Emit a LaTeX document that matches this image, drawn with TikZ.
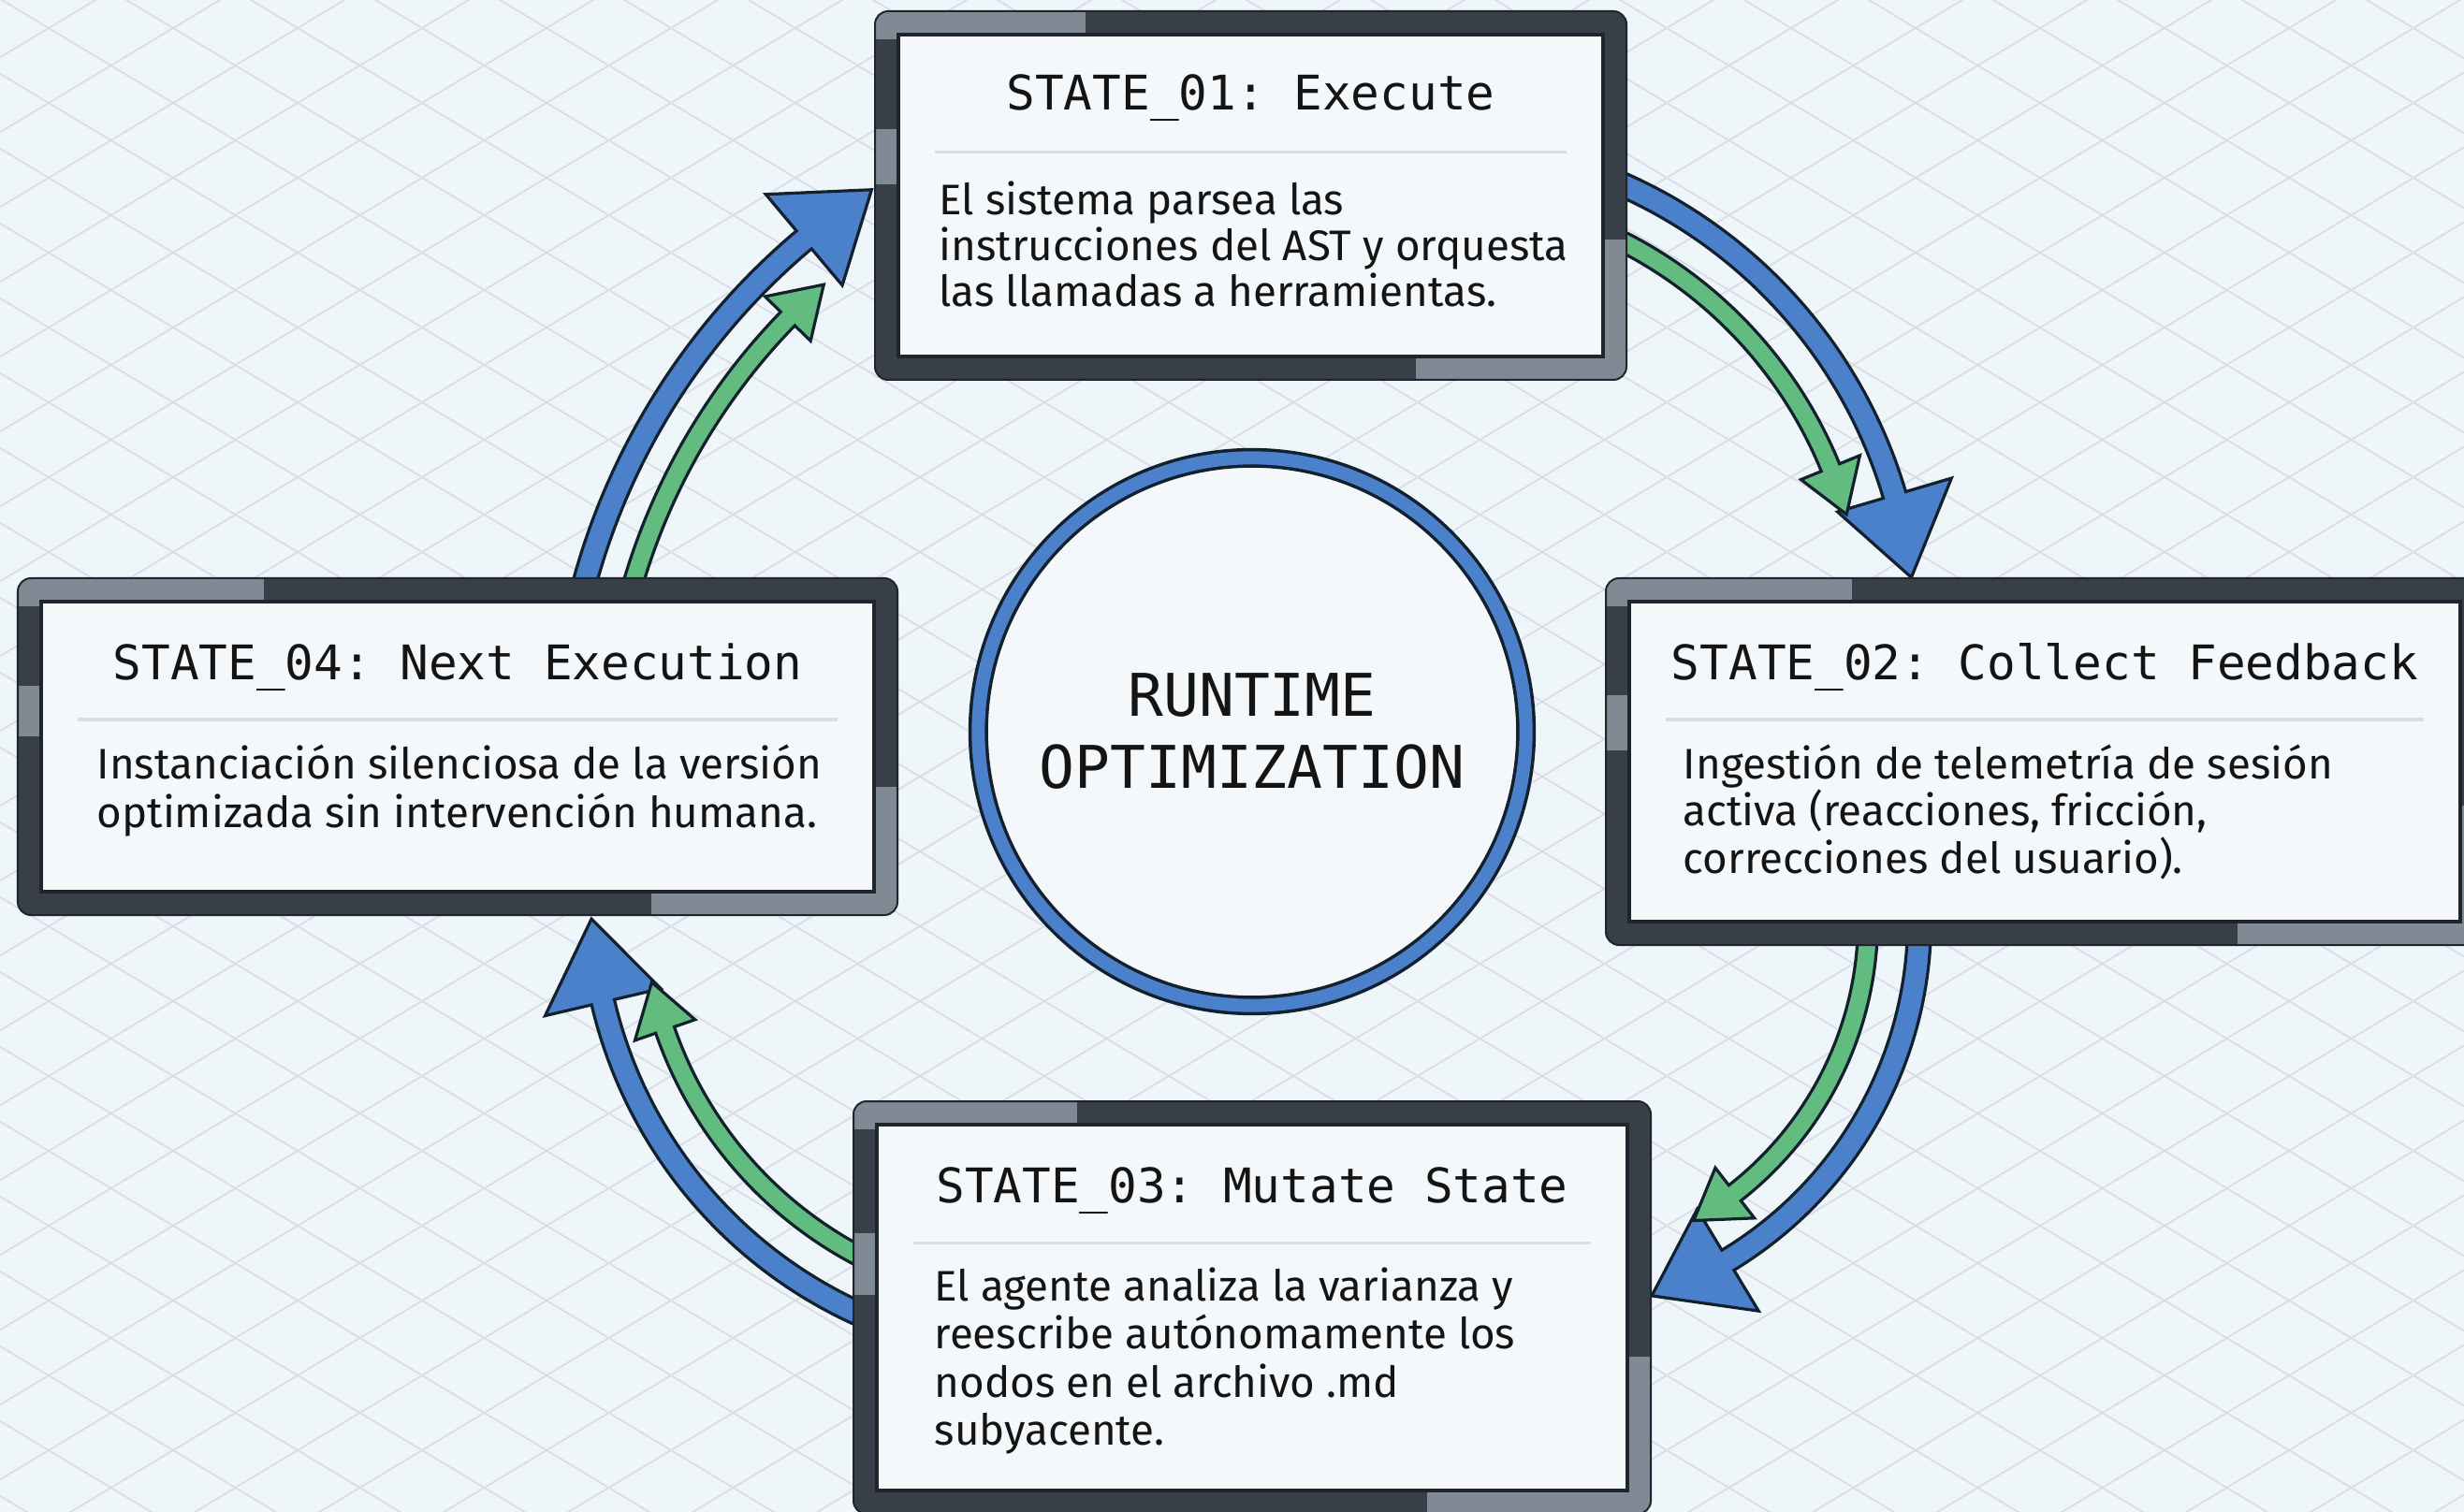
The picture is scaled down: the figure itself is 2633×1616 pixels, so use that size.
\documentclass[tikz,border=0pt]{standalone}
\usepackage{fontspec}
\setmainfont{Fira Sans}
\newfontfamily\bodyfont{Fira Sans}
\newfontfamily\codefont{DejaVu Sans Mono}
\usetikzlibrary{calc,fit}

\definecolor{paper}{HTML}{EEF6FA}
\definecolor{gridline}{HTML}{DADDE7}
\definecolor{framedark}{HTML}{383F49}
\definecolor{framelight}{HTML}{808A95}
\definecolor{frameedge}{HTML}{1E252D}
\definecolor{panel}{HTML}{F4F8FB}
\definecolor{rulegray}{HTML}{D9DEE3}
\definecolor{ink}{HTML}{141414}
\definecolor{flowblue}{HTML}{4B80CB}
\definecolor{flowgreen}{HTML}{63BC7F}
\definecolor{outline}{HTML}{13202D}

\tikzset{
  title/.style={font=\codefont\fontsize{14.5}{17}\selectfont\frenchspacing, text=ink, anchor=base, inner sep=0pt},
  bodyline/.style={font=\bodyfont\fontsize{13}{15}\selectfont, text=ink, anchor=base west, inner sep=0pt},
  corelabel/.style={font=\codefont\fontsize{17.9}{20}\selectfont, text=ink, anchor=base, inner sep=0pt},
  flow/.style={draw=outline, line width=0.032cm, line join=miter},
  gridstroke/.style={draw=gridline, line width=0.018cm},
}

% framed state panel: name, left, top, right, bottom (pixel units, y down)
\newcommand\statepanel[5]{%
  \begin{scope}[shift={(#2,#3)}]
    \pgfmathsetmacro\pnlw{#4-#2}\pgfmathsetmacro\pnlh{#5-#3}
    \node[fit={(0,0) (\pnlw,\pnlh)}, inner sep=0pt, outer sep=0pt] (#1) {};
    \fill[framedark, rounded corners=0.14cm] (0,0) rectangle (\pnlw,\pnlh);
    \begin{scope}
      \clip[rounded corners=0.14cm] (0,0) rectangle (\pnlw,\pnlh);
      \fill[framelight] (0,0) rectangle ({0.28*\pnlw},30);
      \fill[framelight] (0,{0.32*\pnlh}) rectangle (30,{0.47*\pnlh});
      \fill[framelight] ({\pnlw-30},{0.62*\pnlh}) rectangle (\pnlw,\pnlh);
      \fill[framelight] ({0.72*\pnlw},{\pnlh-30}) rectangle (\pnlw,\pnlh);
    \end{scope}
    \draw[frameedge, line width=0.02cm, rounded corners=0.14cm] (0,0) rectangle (\pnlw,\pnlh);
    \draw[frameedge, fill=panel, line width=0.035cm] (25,25) rectangle ({\pnlw-25},{\pnlh-25});
    \draw[rulegray, line width=0.03cm] (64,151) -- ({\pnlw-64},151);
  \end{scope}
}

% curved block arrow along a circle: centre, radius, start angle, tip angle,
% shaft width, head width, head length, fill colour
\newcommand\cyclearrow[8]{%
  \pgfmathsetmacro\arwA{#2+#5/2}%
  \pgfmathsetmacro\arwB{#2-#5/2}%
  \pgfmathsetmacro\arwC{#2+#6/2}%
  \pgfmathsetmacro\arwD{#2-#6/2}%
  \pgfmathsetmacro\arwE{#4-(#7/#2)*180/pi}%
  \draw[flow, fill=#8]
    ([shift={(#3:\arwA)}]#1) arc[start angle=#3, end angle=\arwE, radius=\arwA]
    -- ([shift={(\arwE:\arwC)}]#1)
    -- ([shift={(#4:#2)}]#1)
    -- ([shift={(\arwE:\arwD)}]#1)
    -- ([shift={(\arwE:\arwB)}]#1)
    arc[start angle=\arwE, end angle=#3, radius=\arwB] -- cycle;
}

\begin{document}
\begin{tikzpicture}[x=0.01cm, y=-0.01cm]
\useasboundingbox (0,0) rectangle (2633,1616);
\clip (0,0) rectangle (2633,1616);
\fill[paper] (0,0) rectangle (2633,1616);

% isometric background grid
\foreach \k in {-21,...,21}
  \draw[gridstroke] (0,{-1.3+80*\k}) -- (2633,{-1.3+80*\k+1583.8});
\foreach \k in {0,...,41}
  \draw[gridstroke] (0,{61.3+80*\k}) -- (2633,{61.3+80*\k-1583.8});

% arc centres of the flow arrows
\coordinate (c1) at (1520,678);
\coordinate (c2) at (1627,984);
\coordinate (c3) at (1119,960);
\coordinate (c4) at (1329,815);

% STATE_01 -> STATE_02
\cyclearrow{c1}{526}{-70}{-6.65}{25}{127}{90}{flowblue}
\cyclearrow{c1}{471}{-68}{-15.8}{21}{68}{53}{flowgreen}
% STATE_02 -> STATE_03
\cyclearrow{c2}{424}{-5}{71}{25}{127}{90}{flowblue}
\cyclearrow{c2}{369}{-5}{60.3}{21}{68}{53}{flowgreen}
% STATE_03 -> STATE_04
\cyclearrow{c3}{487.5}{110}{177.4}{25}{127}{90}{flowblue}
\cyclearrow{c3}{432}{112}{168}{21}{68}{53}{flowgreen}
% STATE_04 -> STATE_01
\cyclearrow{c4}{730}{192}{237}{25}{127}{90}{flowblue}
\cyclearrow{c4}{680}{192}{228.7}{21}{68}{53}{flowgreen}

% central hub
\node[circle, draw=outline, line width=0.035cm, double=flowblue, double distance=0.14cm,
      fill=panel, minimum size=5.85cm, inner sep=0pt] (core) at (1338,782) {};
\node[corelabel] (core-a) at (1338,766) {RUNTIME};
\node[corelabel] (core-b) at (1338,842) {OPTIMIZATION};

% state panels
\statepanel{s1}{935}{12}{1738}{406}
\statepanel{s2}{1716}{618}{2654}{1010}
\statepanel{s3}{912}{1177}{1764}{1618}
\statepanel{s4}{19}{618}{959}{978}

\node[title] (s1-title) at ($(s1.north)+(0,106)$) {STATE\char95 01: Execute};
\node[title] (s2-title) at ($(s2.north)+(0,109)$) {STATE\char95 02: Collect Feedback};
\node[title] (s3-title) at ($(s3.north)+(0,108)$) {STATE\char95 03: Mutate State};
\node[title] (s4-title) at ($(s4.north)+(0,109)$) {STATE\char95 04: Next Execution};

\foreach \t [count=\i] in {{El sistema parsea las},{instrucciones del AST y orquesta},{las llamadas a herramientas.}}
  \node[bodyline] (s1-line\i) at ($(s1.north west)+(68,{218+49*(\i-1)})$) {\t};
\foreach \t [count=\i] in {{Ingestión de telemetría de sesión},{activa (reacciones, fricción,},{correcciones del usuario).}}
  \node[bodyline] (s2-line\i) at ($(s2.north west)+(82,{214+50.5*(\i-1)})$) {\t};
\foreach \t [count=\i] in {{El agente analiza la varianza y},{reescribe autónomamente los},{nodos en el archivo .md},{subyacente.}}
  \node[bodyline] (s3-line\i) at ($(s3.north west)+(86,{213+51.5*(\i-1)})$) {\t};
\foreach \t [count=\i] in {{Instanciación silenciosa de la versión},{optimizada sin intervención humana.}}
  \node[bodyline] (s4-line\i) at ($(s4.north west)+(84,{214+52*(\i-1)})$) {\t};
\end{tikzpicture}
\end{document}
